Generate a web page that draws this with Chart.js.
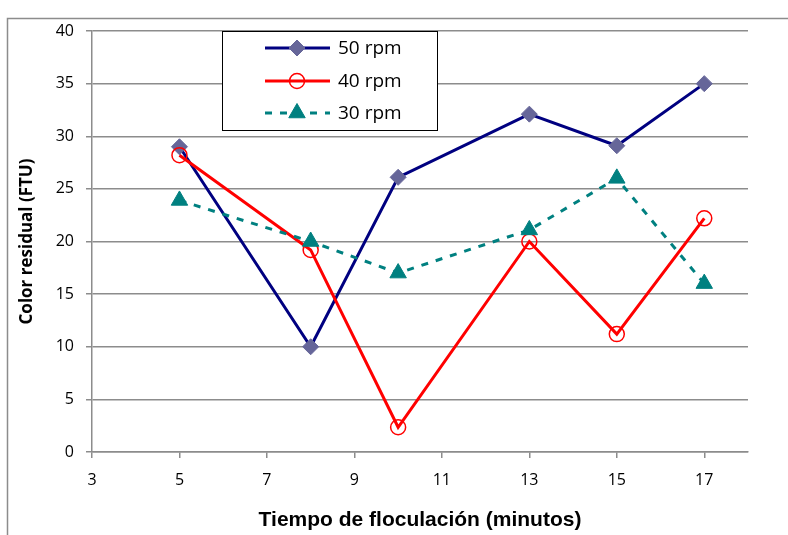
<!DOCTYPE html>
<html>
<head>
<meta charset="utf-8">
<script src="https://cdn.jsdelivr.net/npm/chart.js@4.4.0/dist/chart.umd.min.js"></script>
<style>
  html, body { margin: 0; padding: 0; background: #fff; }
  #wrap { width: 788px; height: 535px; }
</style>
</head>
<body>
<div id="wrap"><canvas id="chart" width="788" height="535"></canvas></div>
<script>
// tiempo de floculación (min)
var tiempos = [5, 8, 10, 13, 15, 17];
var xTicks = [3, 5, 7, 9, 11, 13, 15, 17];

// color residual (FTU) por velocidad
var rpm50 = [29, 10, 26.1, 32.1, 29.1, 35];
var rpm40 = [28.2, 19.2, 2.35, 20, 11.2, 22.2];
var rpm30 = [23.9, 20, 17, 21.1, 26, 16];

var nombres = ['50 rpm', '40 rpm', '30 rpm'];

function puntos(vals) {
    return tiempos.map(function (t, i) { return { x: t, y: vals[i] }; });
}

// marco gris del área del gráfico
var marco = {
    id: 'marco',
    beforeDraw: function (chart) {
        var ctx = chart.ctx;
        ctx.save();
        ctx.strokeStyle = '#8c8c8c';
        ctx.lineWidth = 1.5;
        ctx.beginPath();
        ctx.moveTo(7.5, 535);
        ctx.lineTo(7.5, 18.5);
        ctx.lineTo(788, 18.5);
        ctx.stroke();
        ctx.restore();
    }
};

// leyenda dentro del área, con recuadro
var leyenda = {
    id: 'leyenda',
    afterDatasetsDraw: function (chart) {
        var ctx = chart.ctx;
        ctx.save();
        ctx.fillStyle = '#fff';
        ctx.fillRect(222, 31, 215, 99);
        ctx.strokeStyle = '#000';
        ctx.lineWidth = 1;
        ctx.strokeRect(222.5, 31.5, 215, 99);
        var filas = [48, 81, 113];
        chart.data.datasets.forEach(function (ds, i) {
            var y = filas[i];
            ctx.save();
            ctx.strokeStyle = ds.borderColor;
            ctx.lineWidth = ds.borderWidth;
            ctx.setLineDash(ds.borderDash || []);
            ctx.beginPath();
            ctx.moveTo(265, y);
            ctx.lineTo(330, y);
            ctx.stroke();
            ctx.restore();
            ctx.save();
            ctx.fillStyle = ds.pointBackgroundColor;
            ctx.strokeStyle = ds.pointBorderColor;
            ctx.lineWidth = ds.pointBorderWidth;
            Chart.helpers.drawPoint(ctx, {
                pointStyle: ds.pointStyle,
                radius: ds.pointRadius,
                rotation: 0,
                borderWidth: ds.pointBorderWidth
            }, 297, y);
            ctx.restore();
            ctx.fillStyle = '#000';
            ctx.font = '19px "Open Sans"';
            ctx.textBaseline = 'middle';
            ctx.textAlign = 'left';
            ctx.fillText(ds.label, 338, y + 1);
        });
        ctx.restore();
    }
};

new Chart(document.getElementById('chart'), {
    type: 'line',
    data: {
        datasets: [{
            label: nombres[0],
            data: puntos(rpm50),
            borderColor: '#000080',
            borderWidth: 3,
            pointStyle: 'rectRot',
            pointRadius: 8,
            pointBackgroundColor: '#666699',
            pointBorderColor: '#666699',
            pointBorderWidth: 1,
            order: 3
        }, {
            label: nombres[1],
            data: puntos(rpm40),
            borderColor: '#ff0000',
            borderWidth: 3,
            pointStyle: 'circle',
            pointRadius: 7.5,
            pointBackgroundColor: 'rgba(255,255,255,0)',
            pointBorderColor: '#ff0000',
            pointBorderWidth: 1.5,
            order: 2
        }, {
            label: nombres[2],
            data: puntos(rpm30),
            borderColor: '#008080',
            borderWidth: 3,
            borderDash: [7, 8],
            pointStyle: 'triangle',
            pointRadius: 9.5,
            pointBackgroundColor: '#008080',
            pointBorderColor: '#008080',
            pointBorderWidth: 1,
            order: 1
        }]
    },
    options: {
        responsive: false,
        animation: false,
        events: [],
        layout: { padding: { top: 31, right: 40, left: 0, bottom: 0 } },
        plugins: { legend: { display: false }, tooltip: { enabled: false } },
        scales: {
            x: {
                type: 'linear',
                min: 3,
                max: 18,
                afterBuildTicks: function (axis) {
                    axis.ticks = xTicks.map(function (v) { return { value: v }; });
                },
                afterFit: function (axis) { axis.height = 83; },
                grid: { drawOnChartArea: false, drawTicks: true, tickLength: 6, color: '#8c8c8c', lineWidth: 1.5 },
                border: { color: '#8c8c8c', width: 1.5 },
                ticks: { color: '#000', padding: 13, maxRotation: 0, font: { family: '"Open Sans"', size: 16 } },
                title: {
                    display: true,
                    text: 'Tiempo de floculación (minutos)',
                    color: '#000',
                    font: { family: '"Liberation Sans", Arial', size: 21, weight: 'bold' },
                    padding: { top: 0, bottom: 2 }
                }
            },
            y: {
                min: 0,
                max: 40,
                ticks: { stepSize: 5, color: '#000', padding: 12, font: { family: '"Open Sans"', size: 16 } },
                afterFit: function (axis) { axis.width = 92; },
                grid: { color: '#8c8c8c', lineWidth: 1.5, tickLength: 6 },
                border: { color: '#8c8c8c', width: 1.5 },
                title: {
                    display: true,
                    text: 'Color residual (FTU)',
                    color: '#000',
                    font: { family: '"Open Sans"', size: 17, weight: 'bold' },
                    padding: { top: 17, bottom: 0 }
                }
            }
        }
    },
    plugins: [marco, leyenda]
});
</script>
</body>
</html>
